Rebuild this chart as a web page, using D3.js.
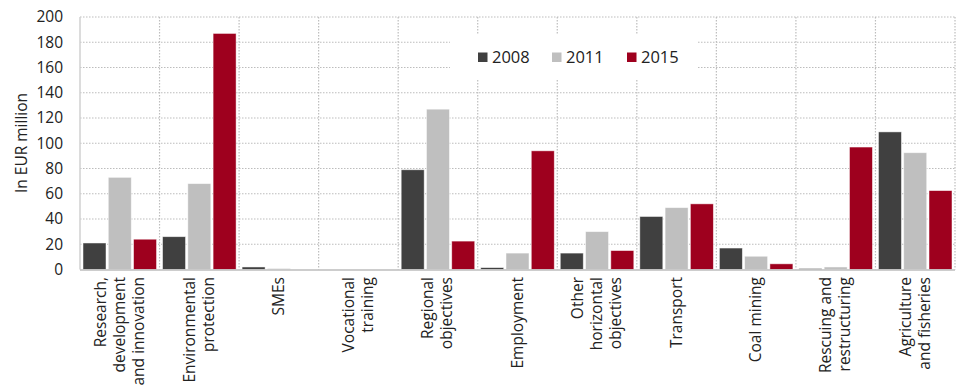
<!DOCTYPE html>
<html><head><meta charset="utf-8">
<script src="https://cdn.jsdelivr.net/npm/d3@7"></script>
<style>body{margin:0;background:#fff}svg{display:block}</style>
</head><body>
<svg id="c" width="960" height="387"></svg>
<script>
const categories = [
  ["Research,","development","and innovation"],
  ["Environmental","protection"],
  ["SMEs"],
  ["Vocational","training"],
  ["Regional","objectives"],
  ["Employment"],
  ["Other","horizontal","objectives"],
  ["Transport"],
  ["Coal mining"],
  ["Rescuing and","restructuring"],
  ["Agriculture","and fisheries"]
];
const seriesNames = ["2008","2011","2015"];
const values2008 = [21, 26, 2, 0, 79, 1.5, 13, 42, 17, 0.8, 109];
const values2011 = [73, 68, 0.8, 0, 127, 13, 30, 49, 10.5, 2, 92.5];
const values2015 = [24, 187, 0, 0, 22.5, 94, 15, 52, 4.5, 97, 62.5];
const yTicks = [0,20,40,60,80,100,120,140,160,180,200];
const colors = ["#404040","#BFBFBF","#9E001E"];
const series = [values2008, values2011, values2015];

const svg = d3.select("#c");
const font = "'Open Sans', sans-serif";
const m = {l:80, r:955, t:17, b:269.5};
const x = d3.scaleBand().domain(d3.range(categories.length)).range([m.l, m.r]);
const xs = d3.scaleBand().domain(d3.range(3)).range([3, x.bandwidth()-3]).paddingInner(0.09);
const y = d3.scaleLinear().domain([0,200]).range([m.b, m.t]);

// horizontal grid
svg.append("g").selectAll("line").data(yTicks.filter(d=>d>0)).join("line")
  .attr("x1", m.l).attr("x2", m.r).attr("y1", d=>y(d)).attr("y2", d=>y(d))
  .attr("stroke","#BDBDBD").attr("stroke-width",1.2).attr("stroke-dasharray","1.5,1.5");
// vertical grid
svg.append("g").selectAll("line").data(d3.range(1, categories.length+1)).join("line")
  .attr("x1", d=>m.l + d*x.step()).attr("x2", d=>m.l + d*x.step())
  .attr("y1", m.t).attr("y2", m.b)
  .attr("stroke","#BDBDBD").attr("stroke-width",1.2).attr("stroke-dasharray","1.5,1.5");

// legend background
svg.append("rect").attr("x",450).attr("y",34).attr("width",247).attr("height",46).attr("fill","#fff");

// bars
const g = svg.append("g");
series.forEach((vals, si) => {
  g.selectAll(null).data(vals).join("rect")
    .attr("x", (d,i)=>x(i)+xs(si)).attr("width", xs.bandwidth())
    .attr("y", d=>y(d)).attr("height", d=>Math.max(0, y(0)-y(d)))
    .attr("fill", colors[si]).attr("stroke","rgba(255,255,255,0.6)").attr("stroke-width",0.8);
});

// axes lines
svg.append("line").attr("x1",m.l).attr("x2",m.l).attr("y1",m.t).attr("y2",m.b)
  .attr("stroke","#D0D0D0").attr("stroke-width",1.5);
svg.append("line").attr("x1",m.l).attr("x2",m.r).attr("y1",m.b+0.5).attr("y2",m.b+0.5)
  .attr("stroke","#BDBDBD").attr("stroke-width",1.5);

// y axis labels
const yAxis = d3.axisLeft(y).tickValues(yTicks).tickSize(0).tickPadding(0);
const ya = svg.append("g").attr("transform",`translate(63,0)`).call(yAxis);
ya.select(".domain").remove();
ya.selectAll("text").attr("font-family",font).attr("font-size",15.5).attr("fill","#222");

svg.append("text").attr("transform","translate(27,143) rotate(-90)")
  .attr("text-anchor","middle").attr("font-family",font).attr("font-size",15.5).attr("fill","#222")
  .text("In EUR million");

// x labels
categories.forEach((lines, i) => {
  const cx = x(i) + x.bandwidth()/2;
  const lh = 19;
  const n = lines.length;
  lines.forEach((ln, j) => {
    const off = (j - (n-1)/2)*lh;
    svg.append("text")
      .attr("transform", `translate(${cx+off+5},277) rotate(-90)`)
      .attr("text-anchor","end").attr("font-family",font).attr("font-size",15.5).attr("fill","#222")
      .text(ln);
  });
});

// legend
const legX = [478, 552, 627];
seriesNames.forEach((s, i) => {
  svg.append("rect").attr("x",legX[i]).attr("y",52.5).attr("width",9.5).attr("height",9.5).attr("fill",colors[i]);
  svg.append("text").attr("x",legX[i]+14).attr("y",63).attr("font-family",font).attr("font-size",16.5)
    .attr("fill","#222").text(s);
});
</script>
</body></html>
